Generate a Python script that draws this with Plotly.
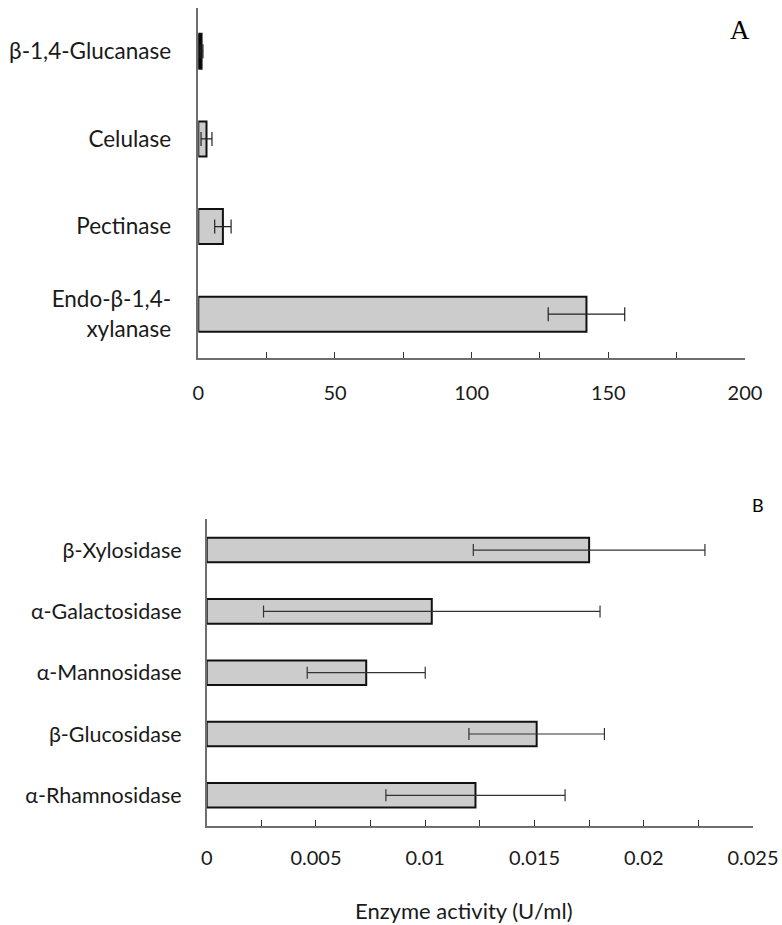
import plotly.graph_objects as go

W, H = 782, 925

# ---- data ----
cats_a = ["β-1,4-Glucanase", "Celulase", "Pectinase", "Endo-β-1,4-<br>xylanase"]
vals_a = [1.2, 3.0, 9.0, 142.0]
errs_a = [0.5, 2.0, 3.0, 14.0]
fill_a = ["#000000", "#cccccc", "#cccccc", "#cccccc"]

cats_b = ["β-Xylosidase", "α-Galactosidase", "α-Mannosidase", "β-Glucosidase", "α-Rhamnosidase"]
vals_b = [0.0175, 0.0103, 0.0073, 0.0151, 0.0123]
errs_b = [0.0053, 0.0077, 0.0027, 0.0031, 0.0041]

ticks_b = [0, 0.005, 0.01, 0.015, 0.02, 0.025]
ticktext_b = ["0", "0.005", "0.01", "0.015", "0.02", "0.025"]

xlabel = "Enzyme activity (U/ml)"

FONT = "Lato"
TXT = "#1a1a1a"
AXC = "#6e6e6e"

def px_x(p):
    return p / W

def px_y(p):
    return 1 - p / H

fig = go.Figure()
fig.add_trace(go.Bar(
    y=cats_a, x=vals_a, orientation="h", width=0.4,
    marker=dict(color=fill_a, line=dict(color="#111111", width=2)),
    error_x=dict(type="data", array=errs_a, color="#222222", thickness=1.2, width=7),
    xaxis="x", yaxis="y", showlegend=False, hoverinfo="skip",
))
fig.add_trace(go.Bar(
    y=cats_b, x=vals_b, orientation="h", width=0.4,
    marker=dict(color="#cccccc", line=dict(color="#111111", width=2)),
    error_x=dict(type="data", array=errs_b, color="#333333", thickness=1.2, width=6),
    xaxis="x2", yaxis="y2", showlegend=False, hoverinfo="skip",
))

common_x = dict(
    showgrid=False, zeroline=False, showline=True, linecolor=AXC, linewidth=1.5,
    ticks="inside", ticklen=6, tickcolor="#333333", tickwidth=1.2,
    tickfont=dict(family=FONT, size=20, color=TXT), automargin=False,
)
common_y = dict(
    showgrid=False, zeroline=False, showline=True, linecolor=AXC, linewidth=1.5,
    ticks="", type="category", automargin=False,
)
minor_tick = dict(ticks="inside", ticklen=6, tickcolor="#333333", tickwidth=1.2)

fig.update_layout(
    width=W, height=H, autosize=False, margin=dict(l=0, r=0, t=0, b=0, pad=0),
    paper_bgcolor="white", plot_bgcolor="white",
    xaxis=dict(domain=[px_x(198.3), px_x(745)], anchor="y", range=[0, 200],
               dtick=50, minor=dict(dtick=25, **minor_tick), ticklabelstandoff=16,
               **common_x),
    yaxis=dict(domain=[px_y(358), px_y(7.5)], anchor="x", range=[3.5, -0.5],
               ticklabelstandoff=21, tickfont=dict(family=FONT, size=22.5, color=TXT),
               **common_y),
    xaxis2=dict(domain=[px_x(206.7), px_x(753)], anchor="y2", range=[0, 0.025],
                tickvals=ticks_b, ticktext=ticktext_b,
                minor=dict(dtick=0.0025, **minor_tick), ticklabelstandoff=13,
                **common_x),
    yaxis2=dict(domain=[px_y(826), px_y(519.4)], anchor="x2", range=[4.5, -0.5],
                ticklabelstandoff=19, tickfont=dict(family=FONT, size=21.5, color=TXT),
                **common_y),
    annotations=[
        dict(text="A", x=px_x(740), y=px_y(30), xref="paper", yref="paper",
             xanchor="center", yanchor="middle",
             showarrow=False, font=dict(family="Liberation Serif", size=27, color="#000000")),
        dict(text="B", x=px_x(758), y=px_y(505), xref="paper", yref="paper",
             xanchor="center", yanchor="middle",
             showarrow=False, font=dict(family=FONT, size=18, color="#000000")),
        dict(text=xlabel, x=px_x(464), y=px_y(910), xref="paper", yref="paper",
             xanchor="center", yanchor="middle",
             showarrow=False, font=dict(family=FONT, size=22, color=TXT)),
    ],
)

fig.write_html(
    "out.html",
    config={"responsive": False},
    post_script="document.body.style.margin='0';document.documentElement.style.overflow='hidden';",
)
